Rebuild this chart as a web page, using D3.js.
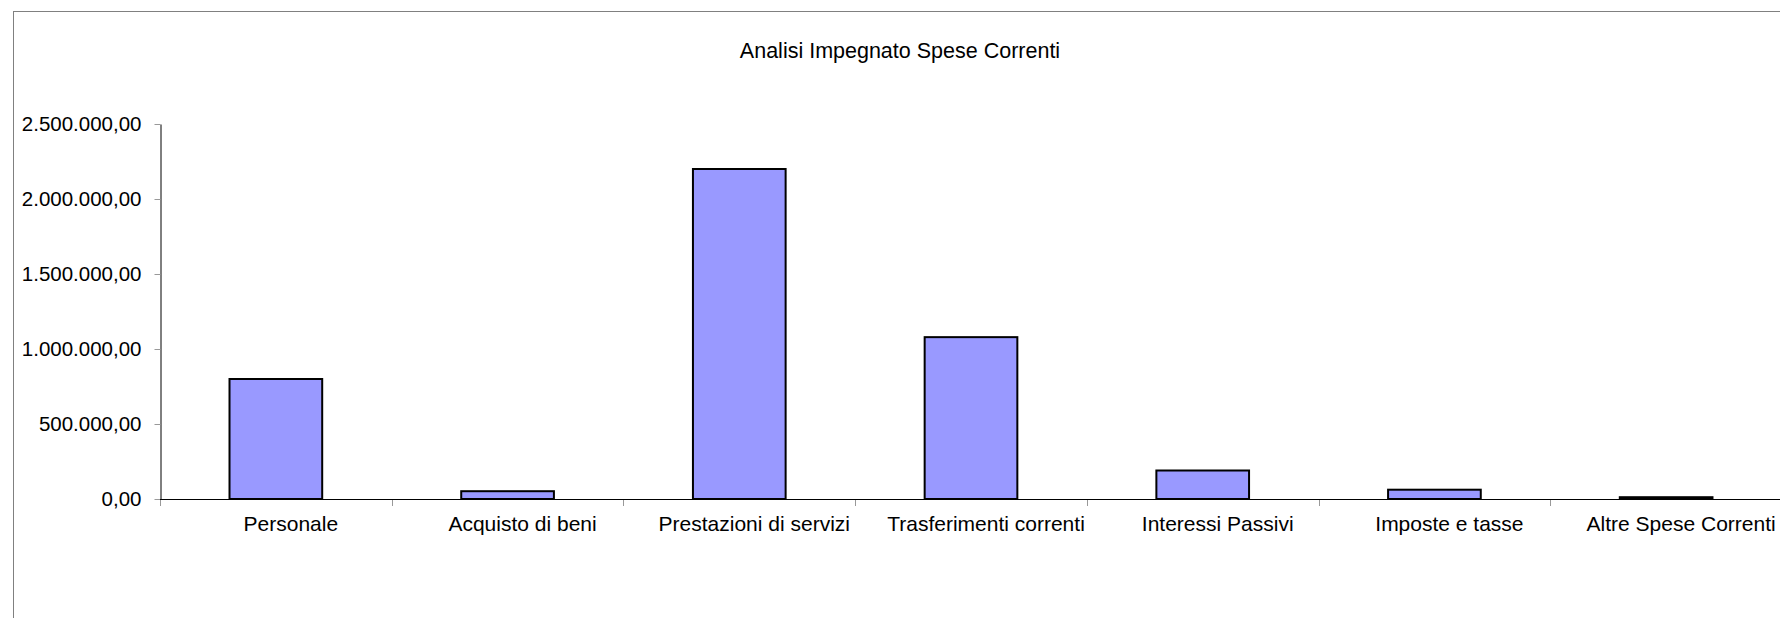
<!DOCTYPE html>
<html>
<head>
<meta charset="utf-8">
<script src="https://cdn.jsdelivr.net/npm/d3@7"></script>
<style>
  html, body { margin: 0; padding: 0; background: #ffffff; }
  svg { display: block; }
  text { font-family: "Liberation Sans", Arial, sans-serif; fill: #000; }
</style>
</head>
<body>
<svg id="chart" width="1780" height="618"></svg>
<script>
// Spese correnti: impegnato per voce di spesa (euro)
const categories = [
  "Personale",
  "Acquisto di beni",
  "Prestazioni di servizi",
  "Trasferimenti correnti",
  "Interessi Passivi",
  "Imposte e tasse",
  "Altre Spese Correnti"
];
const impegnato = [800000, 52000, 2200000, 1079000, 190000, 62000, 12000];
const yTicks = [0, 500000, 1000000, 1500000, 2000000, 2500000];
const chartTitle = "Analisi Impegnato Spese Correnti";

const itLocale = d3.formatLocale({
  decimal: ",", thousands: ".", grouping: [3], currency: ["", " €"]
});
const fmt = itLocale.format(",.2f");

const svg = d3.select("#chart");
const W = 1780, H = 618;

// Frame of the chart area
svg.append("rect")
  .attr("x", 13.5).attr("y", 11.5)
  .attr("width", W).attr("height", H)
  .attr("fill", "#fff")
  .attr("stroke", "#808080").attr("stroke-width", 1);

// Title
svg.append("text")
  .attr("x", 900).attr("y", 57.5)
  .attr("text-anchor", "middle")
  .style("font-size", "21.5px")
  .text(chartTitle);

const plot = { left: 160, right: 1782, top: 124, bottom: 499 };

const x = d3.scaleBand()
  .domain(categories)
  .range([plot.left, plot.right])
  .paddingInner(0.6)
  .paddingOuter(0.3);

const y = d3.scaleLinear()
  .domain([0, 2500000])
  .range([plot.bottom, plot.top]);

// Bars
svg.append("g").selectAll("rect")
  .data(categories.map((c, i) => ({ c, v: impegnato[i] })))
  .join("rect")
  .attr("x", d => x(d.c))
  .attr("y", d => y(d.v))
  .attr("width", x.bandwidth())
  .attr("height", d => y(0) - y(d.v))
  .attr("fill", "#9999ff")
  .attr("stroke", "#000")
  .attr("stroke-width", 2);

// Y axis
const yAxis = svg.append("g")
  .attr("transform", `translate(${plot.left + 0.5},0)`)
  .call(d3.axisLeft(y).tickValues(yTicks).tickFormat(fmt).tickSize(6).tickSizeOuter(0).tickPadding(13));
yAxis.select(".domain").attr("stroke", "#000");
yAxis.selectAll(".tick line").attr("stroke", "#999");
yAxis.selectAll(".tick text")
  .style("font-size", "20.5px")
  .style("font-family", "'Liberation Sans', Arial, sans-serif")
  .attr("fill", "#000");

// X axis: tick marks sit on the boundaries between categories
const step = x.step();
const boundaries = d3.range(categories.length + 1).map(i => plot.left + i * step);
const xg = svg.append("g");
xg.append("line")
  .attr("x1", plot.left).attr("x2", plot.right)
  .attr("y1", plot.bottom + 0.5).attr("y2", plot.bottom + 0.5)
  .attr("stroke", "#000").attr("stroke-width", 1);
xg.selectAll("line.tk")
  .data(boundaries)
  .join("line")
  .attr("class", "tk")
  .attr("x1", d => Math.round(d) + 0.5).attr("x2", d => Math.round(d) + 0.5)
  .attr("y1", plot.bottom + 1).attr("y2", plot.bottom + 7)
  .attr("stroke", "#999");
// Category labels sit slightly right of the bar centres
const labelShift = 15;
xg.selectAll("text")
  .data(categories)
  .join("text")
  .attr("x", d => x(d) + x.bandwidth() / 2 + labelShift)
  .attr("y", 531)
  .attr("text-anchor", "middle")
  .style("font-size", "21px")
  .text(d => d);
</script>
</body>
</html>
